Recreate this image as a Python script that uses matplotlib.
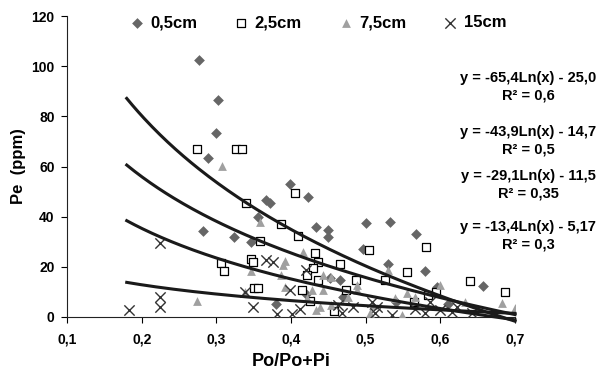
import numpy as np
import matplotlib
matplotlib.use("Agg")
import matplotlib.pyplot as plt
from matplotlib.ticker import FuncFormatter

plt.rcParams["font.family"] = ["Liberation Sans", "DejaVu Sans"]
plt.rcParams["font.weight"] = "bold"

# ── data ─────────────────────────────────────────────────────────────────────
d05_x = [0.277, 0.302, 0.300, 0.289, 0.282, 0.323, 0.346, 0.356, 0.367, 0.372,
         0.399, 0.423, 0.433, 0.450, 0.450, 0.500, 0.532, 0.567, 0.496, 0.452,
         0.465, 0.530, 0.580, 0.595, 0.657, 0.420, 0.380, 0.470, 0.540, 0.610]
d05_y = [102.5, 86.4, 73.5, 63.5, 34.3, 32.0, 29.8, 40.0, 46.6, 45.3,
         53.0, 48.0, 36.0, 34.5, 32.0, 37.4, 38.0, 33.2, 27.0, 15.5,
         14.7, 21.0, 18.3, 12.0, 12.5, 9.0, 5.0, 8.0, 6.0, 5.0]

d25_x = [0.274, 0.326, 0.334, 0.340, 0.406, 0.386, 0.410, 0.359, 0.347, 0.349,
         0.306, 0.310, 0.350, 0.356, 0.432, 0.436, 0.429, 0.421, 0.436, 0.466,
         0.487, 0.415, 0.473, 0.425, 0.458, 0.504, 0.581, 0.556, 0.526, 0.565,
         0.594, 0.584, 0.640, 0.687]
d25_y = [67.0, 67.0, 67.0, 45.3, 49.6, 37.2, 32.3, 30.4, 23.0, 22.0,
         21.4, 18.5, 11.4, 11.4, 25.4, 21.8, 19.5, 16.7, 14.8, 21.2,
         14.8, 10.8, 10.8, 6.3, 2.5, 26.7, 28.0, 18.0, 14.6, 6.1,
         10.1, 8.8, 14.3, 10.0]

d75_x = [0.307, 0.274, 0.338, 0.346, 0.358, 0.392, 0.389, 0.416, 0.443, 0.454,
         0.392, 0.428, 0.443, 0.477, 0.488, 0.434, 0.454, 0.530, 0.555, 0.566,
         0.539, 0.548, 0.506, 0.510, 0.633, 0.682, 0.700, 0.387, 0.439, 0.421,
         0.600, 0.488]
d75_y = [60.2, 6.4, 10.1, 18.5, 38.0, 22.5, 20.7, 26.0, 16.7, 16.0,
         12.0, 10.8, 10.8, 8.1, 10.8, 2.8, 4.8, 18.7, 9.4, 8.1,
         7.4, 0.8, 1.5, 4.8, 6.1, 5.5, 3.5, 16.7, 4.1, 7.5,
         12.8, 12.8]

d15_x = [0.183, 0.224, 0.225, 0.225, 0.338, 0.349, 0.367, 0.376, 0.381, 0.401,
         0.412, 0.399, 0.420, 0.463, 0.468, 0.483, 0.508, 0.512, 0.515, 0.535,
         0.566, 0.579, 0.586, 0.600, 0.615, 0.622, 0.642]
d15_y = [2.8, 29.6, 8.1, 3.9, 10.1, 3.9, 22.7, 22.0, 1.2, 1.0,
         3.0, 10.6, 18.7, 4.8, 1.5, 4.1, 6.1, 1.5, 4.1, 0.8,
         3.2, 1.5, 6.1, 2.8, 2.1, 4.1, 1.5]

series_labels = ["0,5cm", "2,5cm", "7,5cm", "15cm"]

# logarithmic trend lines y = a*ln(x) + b, as drawn
trend_a = [-65.4, -43.9, -29.1, -9.1]
trend_b = [-25.0, -14.7, -11.5, -1.8]
trend_range = [0.18, 0.70]

eq_labels = ["y = -65,4Ln(x) - 25,0\nR² = 0,6",
             "y = -43,9Ln(x) - 14,7\nR² = 0,5",
             "y = -29,1Ln(x) - 11,5\nR² = 0,35",
             "y = -13,4Ln(x) - 5,17\nR² = 0,3"]

x_ticks = [0.1, 0.2, 0.3, 0.4, 0.5, 0.6, 0.7]
y_ticks = [0, 20, 40, 60, 80, 100, 120]

# ── figure ───────────────────────────────────────────────────────────────────
fig = plt.figure(figsize=(6.06, 3.75), dpi=100)
ax = fig.add_axes([67 / 606, 58 / 375, 448 / 606, 301 / 375])

ax.scatter(d05_x, d05_y, marker="D", s=30, c="#666666", linewidths=0,
           label=series_labels[0], zorder=3)
ax.scatter(d25_x, d25_y, marker="s", s=38, facecolors="white",
           edgecolors="black", linewidths=0.9, label=series_labels[1], zorder=3)
ax.scatter(d75_x, d75_y, marker="^", s=40, c="#a0a0a0", linewidths=0,
           label=series_labels[2], zorder=3)
ax.scatter(d15_x, d15_y, marker="x", s=55, c="#333333", linewidths=1.0,
           label=series_labels[3], zorder=3)

xx = np.linspace(trend_range[0], trend_range[1], 200)
for a, b in zip(trend_a, trend_b):
    ax.plot(xx, a * np.log(xx) + b, color="#1a1a1a", lw=2.2, zorder=4,
            clip_on=False)

ax.set_xlim(0.1, 0.7)
ax.set_ylim(0, 120)
ax.set_xticks(x_ticks)
ax.set_yticks(y_ticks)
ax.xaxis.set_major_formatter(FuncFormatter(lambda v, _: f"{v:.1f}".replace(".", ",")))
ax.tick_params(axis="both", direction="out", length=4, width=0.8,
               labelsize=10, colors="black")
ax.tick_params(axis="x", pad=7)
ax.tick_params(axis="y", pad=5)
for lbl in ax.get_xticklabels() + ax.get_yticklabels():
    lbl.set_fontweight("bold")
ax.spines["top"].set_visible(False)
ax.spines["right"].set_visible(False)
ax.spines["left"].set_color("#222222")
ax.spines["bottom"].set_color("#222222")

ax.set_xlabel("Po/Po+Pi", fontsize=13, fontweight="bold", labelpad=5)
ax.set_ylabel("Pe  (ppm)", fontsize=12, fontweight="bold", labelpad=4)

leg = ax.legend(loc="upper left", bbox_to_anchor=(120 / 606, 1 - 7 / 375),
                bbox_transform=fig.transFigure, ncol=4, frameon=False,
                fontsize=12, handlelength=1.0, handletextpad=0.3,
                columnspacing=2.15, borderpad=0, scatterpoints=1)
for t in leg.get_texts():
    t.set_fontweight("bold")

eq_y = [87, 141, 185, 236]
for lbl, ypix in zip(eq_labels, eq_y):
    fig.text(528 / 606, 1 - ypix / 375, lbl, ha="center", va="center",
             fontsize=10.5, fontweight="bold", linespacing=1.35)

fig.savefig("out.png", dpi=100)
